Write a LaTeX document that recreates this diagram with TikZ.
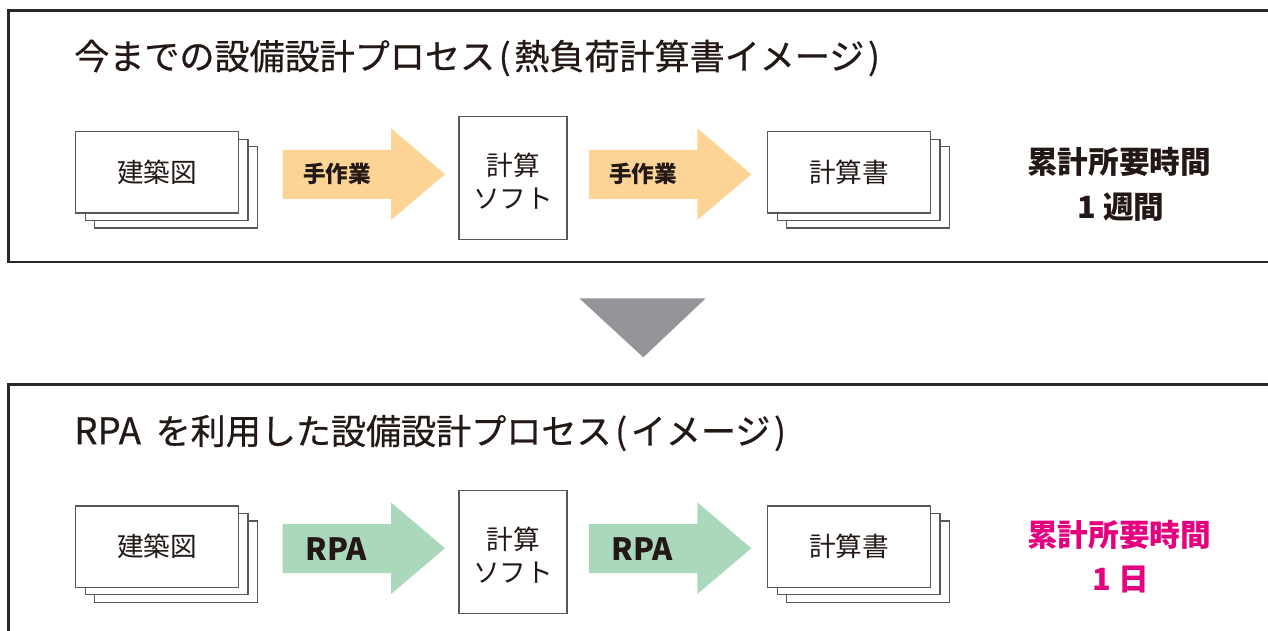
\documentclass[tikz,border=0pt]{standalone}
\usepackage{fontspec}
\setmainfont{Noto Sans CJK JP}
\newfontfamily\titlefont[FakeBold=0.6]{Noto Sans CJK JP}
\usetikzlibrary{calc}
\definecolor{ink}{HTML}{231815}
\definecolor{boxline}{HTML}{5A5757}
\definecolor{framecol}{HTML}{2A2828}
\definecolor{orangearrow}{HTML}{FCD495}
\definecolor{greenarrow}{HTML}{A9D8BB}
\definecolor{pinkcol}{HTML}{E4007F}
\definecolor{tricol}{HTML}{939598}
\newcommand\lpar{\kern2.8pt(\kern2.8pt}
\newcommand\rpar{\kern2.8pt)}
\newcommand\docstack[3]{%
  \node[docbox] (#1-3) at ($#2+(19,15)$) {};
  \node[docbox] (#1-2) at ($#2+(9.5,7.5)$) {};
  \node[docbox] (#1) at #2 {#3};
}
\newcommand\blockarrow[3]{% name, colour, left x
  \fill[#2] (#3,150) -- ++(108.3,0) -- ++(0,-21.7) -- ++(54,46) -- ++(-54,45.7) -- ++(0,-21) -- ++(-108.3,0) -- cycle;
  \coordinate (#1) at ($(#3,174.3)+(54.15,0)$);
}
\begin{document}
\begin{tikzpicture}[x=0.75pt,y=-0.75pt,
  frame/.style={draw=framecol,line width=2pt},
  docbox/.style={draw=boxline,fill=white,line width=1pt,minimum width=122pt,minimum height=61pt,inner sep=0pt,
     text=ink,font=\fontsize{20}{24}\selectfont},
  calcbox/.style={draw=boxline,fill=white,line width=1pt,minimum width=80.8pt,minimum height=92pt,inner sep=0pt},
  calctext/.style={text=ink,font=\fontsize{20}{24.75}\selectfont,align=center,inner sep=0pt},
  titletext/.style={text=ink,anchor=west,inner sep=0pt,font=\titlefont\fontsize{26.3}{30}\selectfont},
  worklabel/.style={text=ink,inner sep=0pt,font=\bfseries\fontsize{17}{20}\selectfont},
  rpalabel/.style={text=ink,inner sep=0pt,font=\bfseries\fontsize{23}{26}\selectfont},
  totaltext/.style={inner sep=0pt,font=\bfseries\fontsize{23}{26}\selectfont},
]
\useasboundingbox (0,0) rectangle (1268,631);
\clip (0,0) rectangle (1268,631);

% ---------- top panel ----------
\draw[frame] (8.7,10.5) rectangle (1300,262);
\node[titletext] (title1) at (74,58) {今までの設備設計プロセス\lpar 熱負荷計算書イメージ\rpar};
\docstack{draw1}{(157,172.5)}{建築図}
\blockarrow{arr1}{orangearrow}{282.7}
\node[worklabel] (lab1) at (337,174.3) {手作業};
\node[calcbox] (soft1) at (513,178) {};
\node[calctext] (softtext1) at (513,181.5) {計算\\ソフト};
\blockarrow{arr2}{orangearrow}{589}
\node[worklabel] (lab2) at (643,174.3) {手作業};
\docstack{book1}{(849,172.5)}{計算書}
\node[totaltext,text=ink] (tot1) at (1119,161.7) {累計所要時間};
\node[totaltext,text=ink] (time1) at (1121,207) {1 週間};

% ---------- down triangle ----------
\fill[tricol] (579.3,298.3) -- (705.7,298.3) -- (643.3,357.3) -- cycle;

% ---------- bottom panel ----------
\draw[frame] (8.7,700) -- (8.7,384.5) -- (1300,384.5);
\begin{scope}[shift={(0,374)}]
\node[titletext] (title2) at (74,59) {{\fontsize{27.5}{30}\selectfont RPA}\kern11pt を利用した設備設計プロセス\lpar イメージ\rpar};
\docstack{draw2}{(157,172.5)}{建築図}
\blockarrow{arr3}{greenarrow}{282.7}
\node[rpalabel] (lab3) at (336,175.5) {RPA};
\node[calcbox] (soft2) at (513,178) {};
\node[calctext] (softtext2) at (513,181.5) {計算\\ソフト};
\blockarrow{arr4}{greenarrow}{589}
\node[rpalabel] (lab4) at (642,175.5) {RPA};
\docstack{book2}{(849,172.5)}{計算書}
\node[totaltext,text=pinkcol] (tot2) at (1119,161) {累計所要時間};
\node[totaltext,text=pinkcol] (time2) at (1121,206) {1 日};
\end{scope}
\end{tikzpicture}
\end{document}
